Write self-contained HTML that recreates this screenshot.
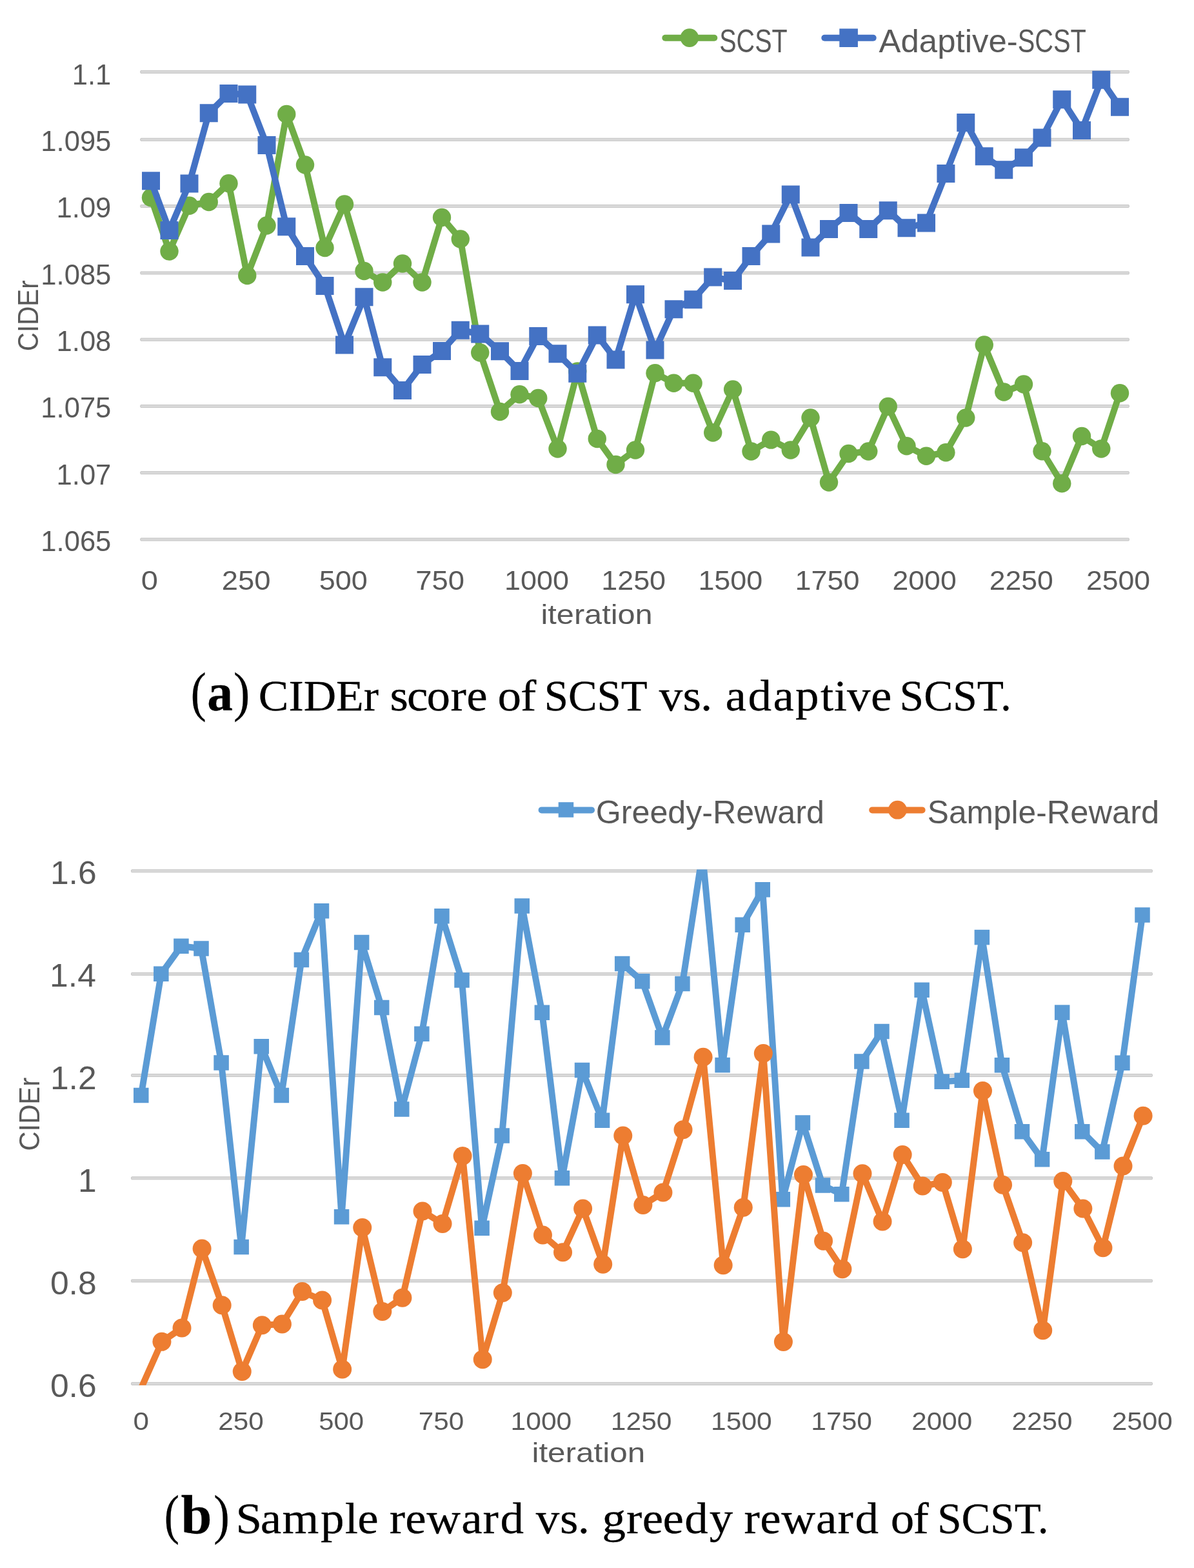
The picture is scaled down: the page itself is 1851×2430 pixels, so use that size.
<!DOCTYPE html>
<html lang="en">
<head>
<meta charset="utf-8">
<title>CIDEr score of SCST vs. adaptive SCST</title>
<style>
html,body{margin:0;padding:0;background:#fff;}
body{width:1851px;height:2430px;}
svg{display:block;}
text{white-space:pre;}
.s{font-family:"Liberation Sans",sans-serif;font-size:100px;}
.r{font-family:"Liberation Serif",serif;font-size:100px;}
</style>
</head>
<body>
<svg width="1851" height="2430" viewBox="0 0 1851 2430">
<rect x="0" y="0" width="1851" height="2430" fill="#ffffff"/>
<!-- chart a -->
<g>
<rect x="217.7" y="109.35" width="1532.7" height="4.1" rx="1.2" fill="#d9d9d9" stroke="#bcbcbc" stroke-width="0.8"/>
<rect x="217.7" y="214.25" width="1532.7" height="4.1" rx="1.2" fill="#d9d9d9" stroke="#bcbcbc" stroke-width="0.8"/>
<rect x="217.7" y="317.45" width="1532.7" height="4.1" rx="1.2" fill="#d9d9d9" stroke="#bcbcbc" stroke-width="0.8"/>
<rect x="217.7" y="420.95" width="1532.7" height="4.1" rx="1.2" fill="#d9d9d9" stroke="#bcbcbc" stroke-width="0.8"/>
<rect x="217.7" y="524.15" width="1532.7" height="4.1" rx="1.2" fill="#d9d9d9" stroke="#bcbcbc" stroke-width="0.8"/>
<rect x="217.7" y="627.45" width="1532.7" height="4.1" rx="1.2" fill="#d9d9d9" stroke="#bcbcbc" stroke-width="0.8"/>
<rect x="217.7" y="730.65" width="1532.7" height="4.1" rx="1.2" fill="#d9d9d9" stroke="#bcbcbc" stroke-width="0.8"/>
<rect x="217.7" y="833.95" width="1532.7" height="4.1" rx="1.2" fill="#d9d9d9" stroke="#bcbcbc" stroke-width="0.8"/>
</g>
<g>
<polyline points="234,306.25 262.5,389.5 293.5,318.75 323.75,313 354.5,284.25 383.25,427 413.5,349.5 444.25,177 473,255.5 503.5,384 534,316.5 564.5,420 593.25,437.5 624,408.5 654.5,437.5 685,337 713.75,370.5 744.25,546.5 775,638 805.5,611.25 834.25,617 864.5,695.5 895.25,575.5 925.75,680 954.5,720 985,697.5 1015.5,578.25 1044.5,593.75 1074.6,593.75 1105.2,670.5 1136.1,603.5 1164.5,699.5 1195.25,681.6 1225.75,697.5 1256.5,647.5 1285,747.5 1315.5,703 1346.25,699.5 1376.75,630 1405.5,691.25 1436,706.75 1466.4,701.25 1497.25,647.5 1525.75,534.5 1556.25,607.5 1587,595.5 1615.5,699.25 1646.25,749.25 1677,676 1707.25,695.5 1736,609.25" fill="none" stroke="#70ad47" stroke-width="10" stroke-linejoin="round" stroke-linecap="round"/>
<g fill="#70ad47">
<circle cx="234" cy="306.25" r="14.2"/>
<circle cx="262.5" cy="389.5" r="14.2"/>
<circle cx="293.5" cy="318.75" r="14.2"/>
<circle cx="323.75" cy="313" r="14.2"/>
<circle cx="354.5" cy="284.25" r="14.2"/>
<circle cx="383.25" cy="427" r="14.2"/>
<circle cx="413.5" cy="349.5" r="14.2"/>
<circle cx="444.25" cy="177" r="14.2"/>
<circle cx="473" cy="255.5" r="14.2"/>
<circle cx="503.5" cy="384" r="14.2"/>
<circle cx="534" cy="316.5" r="14.2"/>
<circle cx="564.5" cy="420" r="14.2"/>
<circle cx="593.25" cy="437.5" r="14.2"/>
<circle cx="624" cy="408.5" r="14.2"/>
<circle cx="654.5" cy="437.5" r="14.2"/>
<circle cx="685" cy="337" r="14.2"/>
<circle cx="713.75" cy="370.5" r="14.2"/>
<circle cx="744.25" cy="546.5" r="14.2"/>
<circle cx="775" cy="638" r="14.2"/>
<circle cx="805.5" cy="611.25" r="14.2"/>
<circle cx="834.25" cy="617" r="14.2"/>
<circle cx="864.5" cy="695.5" r="14.2"/>
<circle cx="895.25" cy="575.5" r="14.2"/>
<circle cx="925.75" cy="680" r="14.2"/>
<circle cx="954.5" cy="720" r="14.2"/>
<circle cx="985" cy="697.5" r="14.2"/>
<circle cx="1015.5" cy="578.25" r="14.2"/>
<circle cx="1044.5" cy="593.75" r="14.2"/>
<circle cx="1074.6" cy="593.75" r="14.2"/>
<circle cx="1105.2" cy="670.5" r="14.2"/>
<circle cx="1136.1" cy="603.5" r="14.2"/>
<circle cx="1164.5" cy="699.5" r="14.2"/>
<circle cx="1195.25" cy="681.6" r="14.2"/>
<circle cx="1225.75" cy="697.5" r="14.2"/>
<circle cx="1256.5" cy="647.5" r="14.2"/>
<circle cx="1285" cy="747.5" r="14.2"/>
<circle cx="1315.5" cy="703" r="14.2"/>
<circle cx="1346.25" cy="699.5" r="14.2"/>
<circle cx="1376.75" cy="630" r="14.2"/>
<circle cx="1405.5" cy="691.25" r="14.2"/>
<circle cx="1436" cy="706.75" r="14.2"/>
<circle cx="1466.4" cy="701.25" r="14.2"/>
<circle cx="1497.25" cy="647.5" r="14.2"/>
<circle cx="1525.75" cy="534.5" r="14.2"/>
<circle cx="1556.25" cy="607.5" r="14.2"/>
<circle cx="1587" cy="595.5" r="14.2"/>
<circle cx="1615.5" cy="699.25" r="14.2"/>
<circle cx="1646.25" cy="749.25" r="14.2"/>
<circle cx="1677" cy="676" r="14.2"/>
<circle cx="1707.25" cy="695.5" r="14.2"/>
<circle cx="1736" cy="609.25" r="14.2"/>
</g></g>
<g>
<polyline points="234,280.3 262.5,357 293.5,284.5 323.75,175.25 354.5,145 383.25,146.5 413.5,225 444.25,351.25 473,397 503.5,443 534,534.5 564.5,460.25 593.25,569.25 624,605 654.5,565 685,544 713.75,511.75 744.25,517.5 775,544.25 805.5,575 834.25,521 864.5,548.25 895.25,578.75 925.75,519.5 954.5,557.5 985,456.25 1015.5,542.5 1044.5,479.25 1074.6,464.25 1105.2,429.5 1136.1,435 1164.5,397 1195.25,362.5 1225.75,301.5 1256.5,383.5 1285,355 1315.5,330 1346.25,355 1376.75,326.25 1405.5,353.25 1436,345.5 1466.4,269 1497.25,190 1525.75,242.25 1556.25,263.25 1587,244.25 1615.5,213.5 1646.25,154.25 1677,202 1707.25,123.75 1736,165.75" fill="none" stroke="#4472c4" stroke-width="10" stroke-linejoin="round" stroke-linecap="round"/>
<g fill="#4472c4">
<rect x="220" y="266.3" width="28" height="28"/>
<rect x="248.5" y="343" width="28" height="28"/>
<rect x="279.5" y="270.5" width="28" height="28"/>
<rect x="309.75" y="161.25" width="28" height="28"/>
<rect x="340.5" y="131" width="28" height="28"/>
<rect x="369.25" y="132.5" width="28" height="28"/>
<rect x="399.5" y="211" width="28" height="28"/>
<rect x="430.25" y="337.25" width="28" height="28"/>
<rect x="459" y="383" width="28" height="28"/>
<rect x="489.5" y="429" width="28" height="28"/>
<rect x="520" y="520.5" width="28" height="28"/>
<rect x="550.5" y="446.25" width="28" height="28"/>
<rect x="579.25" y="555.25" width="28" height="28"/>
<rect x="610" y="591" width="28" height="28"/>
<rect x="640.5" y="551" width="28" height="28"/>
<rect x="671" y="530" width="28" height="28"/>
<rect x="699.75" y="497.75" width="28" height="28"/>
<rect x="730.25" y="503.5" width="28" height="28"/>
<rect x="761" y="530.25" width="28" height="28"/>
<rect x="791.5" y="561" width="28" height="28"/>
<rect x="820.25" y="507" width="28" height="28"/>
<rect x="850.5" y="534.25" width="28" height="28"/>
<rect x="881.25" y="564.75" width="28" height="28"/>
<rect x="911.75" y="505.5" width="28" height="28"/>
<rect x="940.5" y="543.5" width="28" height="28"/>
<rect x="971" y="442.25" width="28" height="28"/>
<rect x="1001.5" y="528.5" width="28" height="28"/>
<rect x="1030.5" y="465.25" width="28" height="28"/>
<rect x="1060.6" y="450.25" width="28" height="28"/>
<rect x="1091.2" y="415.5" width="28" height="28"/>
<rect x="1122.1" y="421" width="28" height="28"/>
<rect x="1150.5" y="383" width="28" height="28"/>
<rect x="1181.25" y="348.5" width="28" height="28"/>
<rect x="1211.75" y="287.5" width="28" height="28"/>
<rect x="1242.5" y="369.5" width="28" height="28"/>
<rect x="1271" y="341" width="28" height="28"/>
<rect x="1301.5" y="316" width="28" height="28"/>
<rect x="1332.25" y="341" width="28" height="28"/>
<rect x="1362.75" y="312.25" width="28" height="28"/>
<rect x="1391.5" y="339.25" width="28" height="28"/>
<rect x="1422" y="331.5" width="28" height="28"/>
<rect x="1452.4" y="255" width="28" height="28"/>
<rect x="1483.25" y="176" width="28" height="28"/>
<rect x="1511.75" y="228.25" width="28" height="28"/>
<rect x="1542.25" y="249.25" width="28" height="28"/>
<rect x="1573" y="230.25" width="28" height="28"/>
<rect x="1601.5" y="199.5" width="28" height="28"/>
<rect x="1632.25" y="140.25" width="28" height="28"/>
<rect x="1663" y="188" width="28" height="28"/>
<rect x="1693.25" y="109.75" width="28" height="28"/>
<rect x="1722" y="151.75" width="28" height="28"/>
</g></g>
<line x1="1031.3" y1="58.8" x2="1107.3" y2="58.8" stroke="#70ad47" stroke-width="10" stroke-linecap="round"/><circle cx="1068.9" cy="58.6" r="14.3" fill="#70ad47"/>
<line x1="1278.3" y1="58.8" x2="1353.7" y2="58.8" stroke="#4472c4" stroke-width="10" stroke-linecap="round"/><rect x="1301.3" y="44.4" width="28.6" height="28.6" fill="#4472c4"/>
<!-- chart b -->
<defs><clipPath id="cb"><rect x="195" y="1347.6" width="1600" height="799.2"/></clipPath></defs>
<g>
<rect x="203.5" y="1347.75" width="1583" height="4.1" rx="1.2" fill="#d9d9d9" stroke="#bcbcbc" stroke-width="0.8"/>
<rect x="203.5" y="1507.35" width="1583" height="4.1" rx="1.2" fill="#d9d9d9" stroke="#bcbcbc" stroke-width="0.8"/>
<rect x="203.5" y="1664.45" width="1583" height="4.1" rx="1.2" fill="#d9d9d9" stroke="#bcbcbc" stroke-width="0.8"/>
<rect x="203.5" y="1823.75" width="1583" height="4.1" rx="1.2" fill="#d9d9d9" stroke="#bcbcbc" stroke-width="0.8"/>
<rect x="203.5" y="1982.95" width="1583" height="4.1" rx="1.2" fill="#d9d9d9" stroke="#bcbcbc" stroke-width="0.8"/>
<rect x="203.5" y="2142.35" width="1583" height="4.1" rx="1.2" fill="#d9d9d9" stroke="#bcbcbc" stroke-width="0.8"/>
</g>
<g clip-path="url(#cb)">
<polyline points="218.75,1697.5 249.83,1509.25 280.91,1466.25 311.99,1470 343.07,1647 374.15,1932.5 405.23,1621.75 436.31,1697.5 467.39,1487.5 498.47,1411.75 529.55,1885.75 560.63,1460.5 591.71,1561.5 622.79,1719 653.87,1602.25 684.95,1419.75 716.03,1519 747.11,1903.25 778.19,1760 809.27,1404 840.35,1569.25 871.43,1825.75 902.51,1658.5 933.59,1736.25 964.67,1493.5 995.75,1520.75 1026.83,1608 1057.91,1524.5 1088.99,1323 1120.07,1650.6 1151.15,1433.25 1182.23,1378.75 1213.31,1858.75 1244.39,1740 1275.47,1837 1304.8,1850.75 1335.88,1645 1366.96,1598.5 1398.04,1736.25 1429.12,1534.25 1460.2,1676.25 1491.28,1674.25 1522.36,1452.6 1553.44,1650.75 1584.52,1753.75 1615.6,1796.75 1646.68,1569.1 1677.76,1753.75 1708.84,1785 1739.92,1647.25 1771,1418" fill="none" stroke="#5b9bd5" stroke-width="10" stroke-linejoin="round" stroke-linecap="round"/>
<g fill="#5b9bd5">
<rect x="207" y="1685.75" width="23.5" height="23.5"/>
<rect x="238.08" y="1497.5" width="23.5" height="23.5"/>
<rect x="269.16" y="1454.5" width="23.5" height="23.5"/>
<rect x="300.24" y="1458.25" width="23.5" height="23.5"/>
<rect x="331.32" y="1635.25" width="23.5" height="23.5"/>
<rect x="362.4" y="1920.75" width="23.5" height="23.5"/>
<rect x="393.48" y="1610" width="23.5" height="23.5"/>
<rect x="424.56" y="1685.75" width="23.5" height="23.5"/>
<rect x="455.64" y="1475.75" width="23.5" height="23.5"/>
<rect x="486.72" y="1400" width="23.5" height="23.5"/>
<rect x="517.8" y="1874" width="23.5" height="23.5"/>
<rect x="548.88" y="1448.75" width="23.5" height="23.5"/>
<rect x="579.96" y="1549.75" width="23.5" height="23.5"/>
<rect x="611.04" y="1707.25" width="23.5" height="23.5"/>
<rect x="642.12" y="1590.5" width="23.5" height="23.5"/>
<rect x="673.2" y="1408" width="23.5" height="23.5"/>
<rect x="704.28" y="1507.25" width="23.5" height="23.5"/>
<rect x="735.36" y="1891.5" width="23.5" height="23.5"/>
<rect x="766.44" y="1748.25" width="23.5" height="23.5"/>
<rect x="797.52" y="1392.25" width="23.5" height="23.5"/>
<rect x="828.6" y="1557.5" width="23.5" height="23.5"/>
<rect x="859.68" y="1814" width="23.5" height="23.5"/>
<rect x="890.76" y="1646.75" width="23.5" height="23.5"/>
<rect x="921.84" y="1724.5" width="23.5" height="23.5"/>
<rect x="952.92" y="1481.75" width="23.5" height="23.5"/>
<rect x="984" y="1509" width="23.5" height="23.5"/>
<rect x="1015.08" y="1596.25" width="23.5" height="23.5"/>
<rect x="1046.16" y="1512.75" width="23.5" height="23.5"/>
<rect x="1108.32" y="1638.85" width="23.5" height="23.5"/>
<rect x="1139.4" y="1421.5" width="23.5" height="23.5"/>
<rect x="1170.48" y="1367" width="23.5" height="23.5"/>
<rect x="1201.56" y="1847" width="23.5" height="23.5"/>
<rect x="1232.64" y="1728.25" width="23.5" height="23.5"/>
<rect x="1263.72" y="1825.25" width="23.5" height="23.5"/>
<rect x="1293.05" y="1839" width="23.5" height="23.5"/>
<rect x="1324.13" y="1633.25" width="23.5" height="23.5"/>
<rect x="1355.21" y="1586.75" width="23.5" height="23.5"/>
<rect x="1386.29" y="1724.5" width="23.5" height="23.5"/>
<rect x="1417.37" y="1522.5" width="23.5" height="23.5"/>
<rect x="1448.45" y="1664.5" width="23.5" height="23.5"/>
<rect x="1479.53" y="1662.5" width="23.5" height="23.5"/>
<rect x="1510.61" y="1440.85" width="23.5" height="23.5"/>
<rect x="1541.69" y="1639" width="23.5" height="23.5"/>
<rect x="1572.77" y="1742" width="23.5" height="23.5"/>
<rect x="1603.85" y="1785" width="23.5" height="23.5"/>
<rect x="1634.93" y="1557.35" width="23.5" height="23.5"/>
<rect x="1666.01" y="1742" width="23.5" height="23.5"/>
<rect x="1697.09" y="1773.25" width="23.5" height="23.5"/>
<rect x="1728.17" y="1635.5" width="23.5" height="23.5"/>
<rect x="1759.25" y="1406.25" width="23.5" height="23.5"/>
</g></g>
<g clip-path="url(#cb)">
<polyline points="219.85,2149 250.93,2079.25 282.01,2058 313.09,1935 344.17,2022.75 375.25,2125.5 406.33,2053.75 437.41,2052 468.49,2001.5 499.57,2015 530.65,2122 561.73,1902.5 592.81,2032.5 623.89,2011.25 654.97,1877 686.05,1896.5 717.13,1791.5 748.21,2106.75 779.29,2003.5 810.37,1818.5 841.45,1914 872.53,1940.75 903.61,1873 934.69,1959.25 965.77,1760 996.85,1867.5 1027.93,1848 1059.01,1750.75 1090.09,1638.25 1121.17,1960.75 1152.25,1871.25 1183.33,1632.5 1214.41,2079.5 1245.49,1820.5 1276.57,1923.25 1305.9,1966.75 1336.98,1818.75 1368.06,1893 1399.14,1789.5 1430.22,1838 1461.3,1832.5 1492.38,1935.75 1523.46,1690.5 1554.54,1836.25 1585.62,1925.75 1616.7,2061.75 1647.78,1830.5 1678.86,1873 1709.94,1933.75 1741.02,1807 1772.1,1729.25" fill="none" stroke="#ed7d31" stroke-width="10" stroke-linejoin="round" stroke-linecap="round"/>
<g fill="#ed7d31">
<circle cx="250.93" cy="2079.25" r="14.5"/>
<circle cx="282.01" cy="2058" r="14.5"/>
<circle cx="313.09" cy="1935" r="14.5"/>
<circle cx="344.17" cy="2022.75" r="14.5"/>
<circle cx="375.25" cy="2125.5" r="14.5"/>
<circle cx="406.33" cy="2053.75" r="14.5"/>
<circle cx="437.41" cy="2052" r="14.5"/>
<circle cx="468.49" cy="2001.5" r="14.5"/>
<circle cx="499.57" cy="2015" r="14.5"/>
<circle cx="530.65" cy="2122" r="14.5"/>
<circle cx="561.73" cy="1902.5" r="14.5"/>
<circle cx="592.81" cy="2032.5" r="14.5"/>
<circle cx="623.89" cy="2011.25" r="14.5"/>
<circle cx="654.97" cy="1877" r="14.5"/>
<circle cx="686.05" cy="1896.5" r="14.5"/>
<circle cx="717.13" cy="1791.5" r="14.5"/>
<circle cx="748.21" cy="2106.75" r="14.5"/>
<circle cx="779.29" cy="2003.5" r="14.5"/>
<circle cx="810.37" cy="1818.5" r="14.5"/>
<circle cx="841.45" cy="1914" r="14.5"/>
<circle cx="872.53" cy="1940.75" r="14.5"/>
<circle cx="903.61" cy="1873" r="14.5"/>
<circle cx="934.69" cy="1959.25" r="14.5"/>
<circle cx="965.77" cy="1760" r="14.5"/>
<circle cx="996.85" cy="1867.5" r="14.5"/>
<circle cx="1027.93" cy="1848" r="14.5"/>
<circle cx="1059.01" cy="1750.75" r="14.5"/>
<circle cx="1090.09" cy="1638.25" r="14.5"/>
<circle cx="1121.17" cy="1960.75" r="14.5"/>
<circle cx="1152.25" cy="1871.25" r="14.5"/>
<circle cx="1183.33" cy="1632.5" r="14.5"/>
<circle cx="1214.41" cy="2079.5" r="14.5"/>
<circle cx="1245.49" cy="1820.5" r="14.5"/>
<circle cx="1276.57" cy="1923.25" r="14.5"/>
<circle cx="1305.9" cy="1966.75" r="14.5"/>
<circle cx="1336.98" cy="1818.75" r="14.5"/>
<circle cx="1368.06" cy="1893" r="14.5"/>
<circle cx="1399.14" cy="1789.5" r="14.5"/>
<circle cx="1430.22" cy="1838" r="14.5"/>
<circle cx="1461.3" cy="1832.5" r="14.5"/>
<circle cx="1492.38" cy="1935.75" r="14.5"/>
<circle cx="1523.46" cy="1690.5" r="14.5"/>
<circle cx="1554.54" cy="1836.25" r="14.5"/>
<circle cx="1585.62" cy="1925.75" r="14.5"/>
<circle cx="1616.7" cy="2061.75" r="14.5"/>
<circle cx="1647.78" cy="1830.5" r="14.5"/>
<circle cx="1678.86" cy="1873" r="14.5"/>
<circle cx="1709.94" cy="1933.75" r="14.5"/>
<circle cx="1741.02" cy="1807" r="14.5"/>
<circle cx="1772.1" cy="1729.25" r="14.5"/>
</g></g>
<line x1="839.6" y1="1255.4" x2="917" y2="1255.4" stroke="#5b9bd5" stroke-width="10" stroke-linecap="round"/><rect x="865.7" y="1243.2" width="23.5" height="23.5" fill="#5b9bd5"/>
<line x1="1352.2" y1="1255.4" x2="1429.6" y2="1255.4" stroke="#ed7d31" stroke-width="10" stroke-linecap="round"/><circle cx="1391.4" cy="1255.2" r="14.4" fill="#ed7d31"/>
<g>
<text class="s" fill="#595959" transform="translate(111.8,130.7) scale(0.4357,0.4350)">1.1</text>
<text class="s" fill="#595959" transform="translate(63.34,234.05) scale(0.4357,0.4350)">1.095</text>
<text class="s" fill="#595959" transform="translate(87.57,337.4) scale(0.4357,0.4350)">1.09</text>
<text class="s" fill="#595959" transform="translate(63.34,440.75) scale(0.4357,0.4350)">1.085</text>
<text class="s" fill="#595959" transform="translate(87.57,544.1) scale(0.4357,0.4350)">1.08</text>
<text class="s" fill="#595959" transform="translate(63.34,647.45) scale(0.4357,0.4350)">1.075</text>
<text class="s" fill="#595959" transform="translate(87.57,750.8) scale(0.4357,0.4350)">1.07</text>
<text class="s" fill="#595959" transform="translate(63.34,854.15) scale(0.4357,0.4350)">1.065</text>
<text class="s" fill="#595959" transform="translate(218.78,914) scale(0.4700,0.4200)">0</text>
<text class="s" fill="#595959" transform="translate(343.82,914) scale(0.4541,0.4200)">250</text>
<text class="s" fill="#595959" transform="translate(494.74,914) scale(0.4497,0.4200)">500</text>
<text class="s" fill="#595959" transform="translate(644.22,914) scale(0.4541,0.4200)">750</text>
<text class="s" fill="#595959" transform="translate(781.99,914) scale(0.4492,0.4200)">1000</text>
<text class="s" fill="#595959" transform="translate(932.19,914) scale(0.4492,0.4200)">1250</text>
<text class="s" fill="#595959" transform="translate(1082.39,914) scale(0.4492,0.4200)">1500</text>
<text class="s" fill="#595959" transform="translate(1232.59,914) scale(0.4492,0.4200)">1750</text>
<text class="s" fill="#595959" transform="translate(1383.51,914) scale(0.4459,0.4200)">2000</text>
<text class="s" fill="#595959" transform="translate(1533.71,914) scale(0.4459,0.4200)">2250</text>
<text class="s" fill="#595959" transform="translate(1683.91,914) scale(0.4459,0.4200)">2500</text>
<text class="s" fill="#595959" transform="translate(838.46,966.5) scale(0.4871,0.4320)">iteration</text>
<text class="s" fill="#595959" transform="translate(59,544.19) rotate(-90) scale(0.4037,0.4400)">CIDEr</text>
<text class="s" fill="#595959" transform="translate(1115.26,80.5) scale(0.3952,0.4930)">SCST</text>
<text class="s" fill="#595959" transform="translate(0,80.5) scale(1,0.4930)"><tspan x="1362.6" textLength="215.09" lengthAdjust="spacingAndGlyphs">Adaptive-</tspan><tspan x="1577.69" textLength="106.19" lengthAdjust="spacingAndGlyphs">SCST</tspan></text>
<text class="s" fill="#595959" transform="translate(77.91,1370.2) scale(0.5164,0.5000)">1.6</text>
<text class="s" fill="#595959" transform="translate(77.11,1529.1) scale(0.5164,0.5000)">1.4</text>
<text class="s" fill="#595959" transform="translate(77.91,1688) scale(0.5164,0.5000)">1.2</text>
<text class="s" fill="#595959" transform="translate(120.98,1846.9) scale(0.5164,0.5000)">1</text>
<text class="s" fill="#595959" transform="translate(77.91,2005.8) scale(0.5164,0.5000)">0.8</text>
<text class="s" fill="#595959" transform="translate(77.91,2164.7) scale(0.5164,0.5000)">0.6</text>
<text class="s" fill="#595959" transform="translate(206.38,2216) scale(0.4400,0.3940)">0</text>
<text class="s" fill="#595959" transform="translate(338.27,2216) scale(0.4228,0.3940)">250</text>
<text class="s" fill="#595959" transform="translate(494.19,2216) scale(0.4187,0.3940)">500</text>
<text class="s" fill="#595959" transform="translate(648.77,2216) scale(0.4228,0.3940)">750</text>
<text class="s" fill="#595959" transform="translate(791.59,2216) scale(0.4258,0.3940)">1000</text>
<text class="s" fill="#595959" transform="translate(946.84,2216) scale(0.4258,0.3940)">1250</text>
<text class="s" fill="#595959" transform="translate(1102.09,2216) scale(0.4258,0.3940)">1500</text>
<text class="s" fill="#595959" transform="translate(1257.34,2216) scale(0.4258,0.3940)">1750</text>
<text class="s" fill="#595959" transform="translate(1413.27,2216) scale(0.4227,0.3940)">2000</text>
<text class="s" fill="#595959" transform="translate(1568.52,2216) scale(0.4227,0.3940)">2250</text>
<text class="s" fill="#595959" transform="translate(1723.77,2216) scale(0.4227,0.3940)">2500</text>
<text class="s" fill="#595959" transform="translate(824.41,2266) scale(0.4943,0.4250)">iteration</text>
<text class="s" fill="#595959" transform="translate(60.5,1783.56) rotate(-90) scale(0.4175,0.4400)">CIDEr</text>
<text class="s" fill="#595959" transform="translate(0,1275.6) scale(1,0.5000)"><tspan x="923.85" textLength="181.16" lengthAdjust="spacingAndGlyphs">Greedy-</tspan><tspan x="1105.01" textLength="172.8" lengthAdjust="spacingAndGlyphs">Reward</tspan></text>
<text class="s" fill="#595959" transform="translate(0,1275.6) scale(1,0.5000)"><tspan x="1437.75" textLength="184.96" lengthAdjust="spacingAndGlyphs">Sample-</tspan><tspan x="1622.71" textLength="174.44" lengthAdjust="spacingAndGlyphs">Reward</tspan></text>
<text class="r" fill="#000" stroke="#000" stroke-width="0.4" stroke-linejoin="round" transform="translate(0,1101.3) scale(0.73,0.685)"><tspan x="405.01" font-size="123px" textLength="32.76" lengthAdjust="spacingAndGlyphs">(</tspan><tspan x="440.16" font-size="121.17px" font-weight="bold" textLength="54.5" lengthAdjust="spacingAndGlyphs">a</tspan><tspan x="496.06" font-size="123px" textLength="34.69" lengthAdjust="spacingAndGlyphs">)</tspan> <tspan x="549.06" textLength="255.1" lengthAdjust="spacingAndGlyphs">CIDEr</tspan> <tspan x="827.97 864.34 906.12 956.86 990.69">score</tspan> <tspan x="1056.74 1105.35">of</tspan> <tspan x="1155.78" textLength="219.01" lengthAdjust="spacingAndGlyphs">SCST</tspan> <tspan x="1399.59 1450.09 1487.69">vs.</tspan> <tspan x="1540.3 1588.2 1641.72 1689.17 1742.59 1770.76 1798.72 1849.18">adaptive</tspan> <tspan x="1910.41" textLength="237.26" lengthAdjust="spacingAndGlyphs">SCST.</tspan></text>
<text class="r" fill="#000" stroke="#000" stroke-width="0.4" stroke-linejoin="round" transform="translate(0,2375.5) scale(0.73,0.685)"><tspan x="348.93" font-size="123px" textLength="31.79" lengthAdjust="spacingAndGlyphs">(</tspan><tspan x="384.25" font-size="123.36px" font-weight="bold" textLength="65.75" lengthAdjust="spacingAndGlyphs">b</tspan><tspan x="453.69" font-size="123px" textLength="33.66" lengthAdjust="spacingAndGlyphs">)</tspan> <tspan x="500.87 553.15 599.41 680.85 732.57 759.32">Sample</tspan> <tspan x="826.93 860.68 905.79 979.68 1025.45 1062.33">reward</tspan> <tspan x="1138.08 1189.07 1227">vs.</tspan> <tspan x="1278.93 1330.23 1364.17 1407.44 1453.86 1506.58">greedy</tspan> <tspan x="1580.22 1613.99 1659.13 1733.05 1778.85 1815.75">reward</tspan> <tspan x="1891.4 1939.05">of</tspan> <tspan x="1990.71" textLength="236.11" lengthAdjust="spacingAndGlyphs">SCST.</tspan></text>
</g>
</svg>
</body>
</html>
